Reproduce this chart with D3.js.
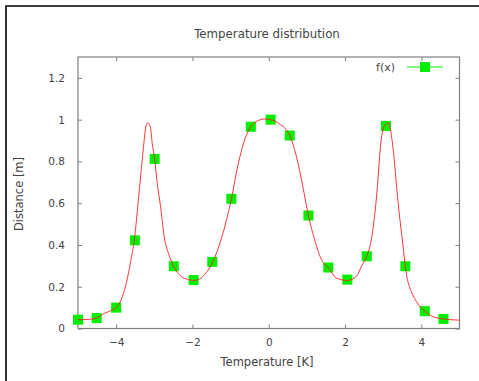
<!DOCTYPE html>
<html>
<head>
<meta charset="utf-8">
<script src="https://cdn.jsdelivr.net/npm/d3@7"></script>
<style>
body { margin: 0; background: #fff; }
text { font-family: "DejaVu Sans", sans-serif; fill: #444; }
</style>
</head>
<body>
<div id="vis1"></div>
<script>
// measured points (green squares)
const POINT_X = [-5.0, -4.51, -4.0, -3.51, -2.99, -2.49, -1.97, -1.48, -0.98, -0.47,
    0.05, 0.55, 1.04, 1.56, 2.06, 2.57, 3.07, 3.58, 4.09, 4.58];
const POINT_Y = [0.042, 0.05, 0.10, 0.422, 0.812, 0.298, 0.232, 0.319, 0.621, 0.966,
    1.0, 0.924, 0.541, 0.292, 0.234, 0.346, 0.97, 0.298, 0.083, 0.046];

// red curve
const CURVE_X = [-5.0, -4.7, -4.51, -4.31, -4.15, -4.0, -3.87, -3.73, -3.62, -3.52,
    -3.42, -3.31, -3.21, -3.18, -3.11, -3.05, -2.99, -2.92, -2.84, -2.74,
    -2.6, -2.47, -2.3, -2.13, -1.97, -1.77, -1.63, -1.48, -1.25, -0.98,
    -0.81, -0.59, -0.47, -0.29, -0.11, 0.05, 0.28, 0.55, 0.72, 0.89,
    1.04, 1.2, 1.38, 1.56, 1.77, 2.06, 2.3, 2.43, 2.57, 2.69,
    2.82, 2.95, 3.05, 3.12, 3.17, 3.26, 3.39, 3.52, 3.58, 3.64,
    3.69, 3.87, 4.09, 4.3, 4.58, 4.87, 5.0];
const CURVE_Y = [0.042, 0.044, 0.05, 0.072, 0.085, 0.10, 0.137, 0.22, 0.32, 0.43,
    0.61, 0.82, 0.975, 0.985, 0.97, 0.88, 0.81, 0.69, 0.59, 0.44,
    0.345, 0.29, 0.25, 0.235, 0.23, 0.242, 0.27, 0.314, 0.426, 0.62,
    0.78, 0.924, 0.966, 0.995, 1.003, 1.0, 0.98, 0.924, 0.828, 0.683,
    0.54, 0.427, 0.33, 0.292, 0.242, 0.23, 0.25, 0.298, 0.346, 0.427,
    0.62, 0.908, 0.975, 0.985, 0.97, 0.86, 0.603, 0.394, 0.298, 0.23,
    0.2, 0.129, 0.083, 0.057, 0.046, 0.041, 0.04];

const X_TICKS = [-4, -2, 0, 2, 4];
const Y_TICKS = [0, 0.2, 0.4, 0.6, 0.8, 1, 1.2];

const FRAME_WIDTH = 479;
const FRAME_HEIGHT = 381;
const MARGINS = {left: 78, right: 19.5, top: 57, bottom: 52.5};

const FRAME = d3.select("#vis1")
    .append("svg")
    .attr("width", FRAME_WIDTH)
    .attr("height", FRAME_HEIGHT);

// window-like border top and left
FRAME.append("path")
    .attr("d", "M6,381 V6 H479")
    .attr("fill", "none")
    .attr("stroke", "#000")
    .attr("stroke-width", 1.6);

const X_SCALE = d3.scaleLinear()
    .domain([-5, 5])
    .range([MARGINS.left, FRAME_WIDTH - MARGINS.right]);

const Y_SCALE = d3.scaleLinear()
    .domain([0, 1.3])
    .range([FRAME_HEIGHT - MARGINS.bottom, MARGINS.top]);

const x0 = X_SCALE.range()[0], x1 = X_SCALE.range()[1];
const y0 = Y_SCALE.range()[0], y1 = Y_SCALE.range()[1];
const TICK = 4;

// axes: ticks pointing inwards on all four sides
const axisStyle = (g) => {
    g.select(".domain").remove();
    g.selectAll(".tick line").attr("stroke", "#808080");
    g.selectAll(".tick text").attr("fill", "#555")
        .style("font-family", "DejaVu Sans, sans-serif")
        .style("font-size", "10.5px");
};

FRAME.append("g")
    .attr("transform", "translate(0," + y0 + ")")
    .call(d3.axisBottom(X_SCALE).tickValues(X_TICKS).tickFormat(d3.format("d"))
        .tickSizeInner(-TICK).tickSizeOuter(0).tickPadding(10))
    .call(axisStyle);

FRAME.append("g")
    .attr("transform", "translate(0," + y1 + ")")
    .call(d3.axisTop(X_SCALE).tickValues(X_TICKS).tickFormat("")
        .tickSizeInner(-TICK).tickSizeOuter(0))
    .call(axisStyle);

FRAME.append("g")
    .attr("transform", "translate(" + x0 + ",0)")
    .call(d3.axisLeft(Y_SCALE).tickValues(Y_TICKS).tickFormat(d3.format("~g"))
        .tickSizeInner(-TICK).tickSizeOuter(0).tickPadding(13))
    .call(axisStyle);

FRAME.append("g")
    .attr("transform", "translate(" + x1 + ",0)")
    .call(d3.axisRight(Y_SCALE).tickValues(Y_TICKS).tickFormat("")
        .tickSizeInner(-TICK).tickSizeOuter(0))
    .call(axisStyle);

// plot border
FRAME.append("rect")
    .attr("x", x0)
    .attr("y", y1)
    .attr("width", x1 - x0)
    .attr("height", y0 - y1)
    .attr("fill", "none")
    .attr("stroke", "#808080")
    .attr("stroke-width", 1.2);

// points
const points = POINT_X.map((x, i) => ({x: x, y: POINT_Y[i]}));
FRAME.selectAll(".pt")
    .data(points)
    .enter()
    .append("rect")
    .attr("class", "pt")
    .attr("x", (d) => X_SCALE(d.x) - 5)
    .attr("y", (d) => Y_SCALE(d.y) - 5)
    .attr("width", 10)
    .attr("height", 10)
    .style("fill", "#00ee00");

// red curve on top
const curve = CURVE_X.map((x, i) => ({x: x, y: CURVE_Y[i]}));
FRAME.append("path")
    .datum(curve)
    .attr("fill", "none")
    .attr("stroke", "#ff2020")
    .attr("stroke-width", 0.9)
    .attr("d", d3.line()
        .x((d) => X_SCALE(d.x))
        .y((d) => Y_SCALE(d.y))
        .curve(d3.curveMonotoneX));

// legend
FRAME.append("text")
    .attr("x", 395)
    .attr("y", 71)
    .attr("text-anchor", "end")
    .style("font-size", "11px")
    .text("f(x)");
FRAME.append("line")
    .attr("x1", 407).attr("x2", 443)
    .attr("y1", 67).attr("y2", 67)
    .attr("stroke", "#00ee00");
FRAME.append("rect")
    .attr("x", 420).attr("y", 62)
    .attr("width", 10).attr("height", 10)
    .style("fill", "#00ee00");

// titles
FRAME.append("text")
    .attr("x", 267)
    .attr("y", 38)
    .attr("text-anchor", "middle")
    .style("font-size", "11.8px")
    .text("Temperature distribution");

FRAME.append("text")
    .attr("x", 267)
    .attr("y", 366)
    .attr("text-anchor", "middle")
    .style("font-size", "11.5px")
    .text("Temperature [K]");

FRAME.append("text")
    .attr("transform", "translate(23,194) rotate(-90)")
    .attr("text-anchor", "middle")
    .style("font-size", "11.5px")
    .text("Distance [m]");
</script>
</body>
</html>
